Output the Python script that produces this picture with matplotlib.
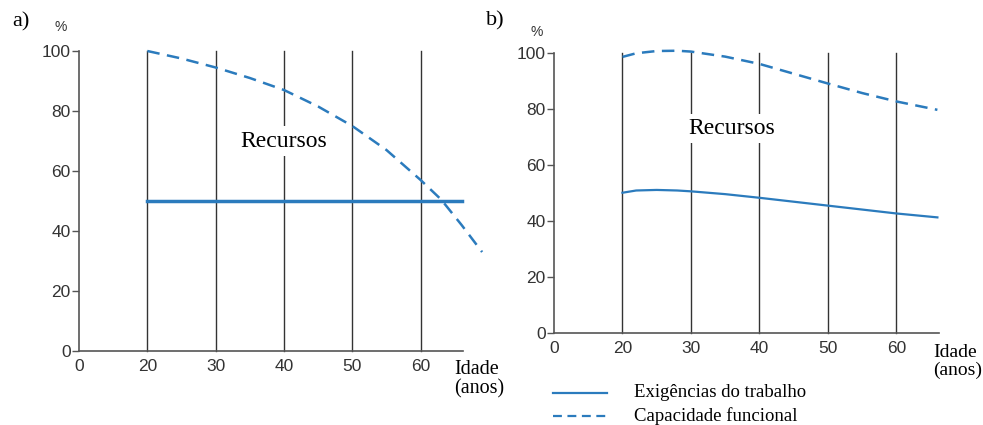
import matplotlib.pyplot as plt

# eixo x "quebrado": o rótulo 0 fica na posição 10
idade_ticks = [10, 20, 30, 40, 50, 60]
idade_labels = ['0', '20', '30', '40', '50', '60']
y_ticks = [0, 20, 40, 60, 80, 100]
grade_x = [20, 30, 40, 50, 60]

# a)
a_exig_x = [20, 66]
a_exig_y = [50, 50]
a_cap_x = [20, 25, 30, 35, 40, 45, 50, 55, 60, 63, 66, 69]
a_cap_y = [100, 97.5, 94.5, 91, 87, 81.5, 75, 67, 57, 50.5, 42, 33]

# b)
b_exig_x = [20, 22, 25, 28, 30, 35, 40, 45, 50, 55, 60, 66]
b_exig_y = [50, 50.8, 51, 50.8, 50.5, 49.5, 48.2, 46.8, 45.4, 44, 42.6, 41.2]
b_cap_x = [20, 22, 25, 28, 30, 35, 40, 45, 50, 55, 60, 66]
b_cap_y = [98.5, 99.8, 100.6, 100.7, 100.4, 98.6, 96, 92.5, 89, 85.6, 82.6, 79.6]

azul = '#2b7bbd'
cinza = '#555555'
sans = 'Liberation Sans'
serif = 'Liberation Serif'

fig = plt.figure(figsize=(9.83, 4.25), dpi=100)
ax_a = fig.add_axes([0.0804, 0.174, 0.3906, 0.706])
ax_b = fig.add_axes([0.5636, 0.217, 0.3914, 0.659])


def montar(ax, texto_x, texto_y, pct_x, pct_y):
    ax.set_xlim(10, 66.2)
    ax.set_ylim(0, 100)
    for s in ['top', 'right']:
        ax.spines[s].set_visible(False)
    for s in ['left', 'bottom']:
        ax.spines[s].set_color(cinza)
        ax.spines[s].set_linewidth(1.2)
    ax.set_xticks(idade_ticks)
    ax.set_xticklabels(idade_labels)
    ax.set_yticks(y_ticks)
    ax.tick_params(axis='x', length=0, pad=6, labelsize=12.5, labelcolor='#333333')
    ax.tick_params(axis='y', length=5, width=1, color=cinza, labelsize=12.5,
                   labelcolor='#333333', pad=1)
    for lab in ax.get_xticklabels() + ax.get_yticklabels():
        lab.set_family(sans)
    for gx in grade_x:
        ax.plot([gx, gx], [0, 100], color='#333333', lw=1, zorder=1, clip_on=False)
    ax.text(texto_x, texto_y, 'Recursos', family=serif, fontsize=17,
            ha='center', va='center', zorder=3,
            bbox=dict(facecolor='white', edgecolor='none', pad=3))
    ax.text(pct_x, pct_y, '%', transform=ax.transAxes, fontsize=10, family=sans,
            ha='center', va='center', color='#333333')


montar(ax_a, 40, 70, -0.047, 1.079)
montar(ax_b, 36, 73, -0.044, 1.074)

ax_a.plot(a_exig_x, a_exig_y, color=azul, lw=2.5, zorder=2, clip_on=False)
ax_a.plot(a_cap_x, a_cap_y, color=azul, lw=1.8, ls=(0, (5, 3)), zorder=2, clip_on=False)

ax_b.plot(b_exig_x, b_exig_y, color=azul, lw=1.6, zorder=2, clip_on=False)
ax_b.plot(b_cap_x, b_cap_y, color=azul, lw=1.8, ls=(0, (5, 3)), zorder=2, clip_on=False)

fig.text(0.012, 0.948, 'a)', family=serif, fontsize=16, va='center')
fig.text(0.494, 0.952, 'b)', family=serif, fontsize=16, va='center')
fig.text(0.462, 0.075, 'Idade\n(anos)', family=serif, fontsize=14.5, linespacing=1.0)
fig.text(0.949, 0.117, 'Idade\n(anos)', family=serif, fontsize=14, linespacing=1.05)

# legenda manual abaixo do painel b
fig.lines.append(plt.Line2D([0.563, 0.617], [0.076, 0.076], color=azul, lw=1.6,
                            transform=fig.transFigure))
fig.lines.append(plt.Line2D([0.563, 0.617], [0.022, 0.022], color=azul, lw=1.6,
                            ls=(0, (4, 2.5)), transform=fig.transFigure))
fig.text(0.645, 0.076, 'Exigências do trabalho', family=serif, fontsize=13.5, va='center')
fig.text(0.645, 0.022, 'Capacidade funcional', family=serif, fontsize=13.5, va='center')

fig.savefig('out.png', dpi=100)
